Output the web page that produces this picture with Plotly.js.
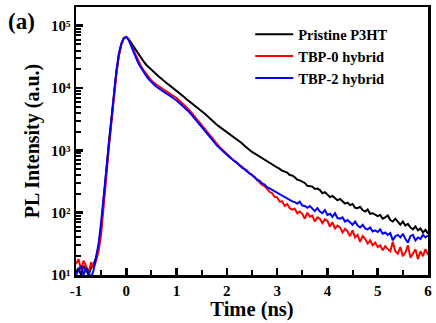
<!DOCTYPE html>
<html>
<head>
<meta charset="utf-8">
<script src="https://cdn.plot.ly/plotly-3.0.1.min.js"></script>
<style>html,body{margin:0;padding:0;background:#fff;}#chart{width:436px;height:323px;}</style>
</head>
<body>
<div id="chart"></div>
<script>
// Time axis (ns), step 0.05 from -1 to 6
const timeNs = [
-1.00,-0.95,-0.90,-0.85,-0.80,-0.75,-0.70,-0.65,-0.60,-0.55,-0.50,-0.45,-0.40,-0.35,-0.30,-0.25,-0.20,-0.15,-0.10,-0.05,
0.00,0.05,0.10,0.15,0.20,0.25,0.30,0.35,0.40,0.45,0.50,0.55,0.60,0.65,0.70,0.75,0.80,0.85,0.90,0.95,
1.00,1.05,1.10,1.15,1.20,1.25,1.30,1.35,1.40,1.45,1.50,1.55,1.60,1.65,1.70,1.75,1.80,1.85,1.90,1.95,
2.00,2.05,2.10,2.15,2.20,2.25,2.30,2.35,2.40,2.45,2.50,2.55,2.60,2.65,2.70,2.75,2.80,2.85,2.90,2.95,
3.00,3.05,3.10,3.15,3.20,3.25,3.30,3.35,3.40,3.45,3.50,3.55,3.60,3.65,3.70,3.75,3.80,3.85,3.90,3.95,
4.00,4.05,4.10,4.15,4.20,4.25,4.30,4.35,4.40,4.45,4.50,4.55,4.60,4.65,4.70,4.75,4.80,4.85,4.90,4.95,
5.00,5.05,5.10,5.15,5.20,5.25,5.30,5.35,5.40,5.45,5.50,5.55,5.60,5.65,5.70,5.75,5.80,5.85,5.90,5.95,
6.00];

const pristineP3HT = [
11,13,10,14,12,10,13,15,19,28,60,151,447,1259,3162,7586,16982,33113,50119,63096,
66069,60256,52481,44668,38019,33113,29512,26303,23442,21380,19498,17783,16218,15136,14125,12882,12023,11220,10471,9661,
8913,8318,7762,7161,6607,6166,5754,5309,4898,4571,4266,3936,3631,3311,3020,2786,2570,2399,2239,2113,
1995,1862,1758,1622,1514,1413,1303,1189,1096,1035,944,891,841,776,750,692,668,617,596,550,
531,505,470,455,440,402,395,370,338,330,318,300,270,266,262,240,244,230,205,214,
192,178,186,170,158,166,150,140,145,132,138,120,118,124,110,104,112,96,98,93,
88,92,80,84,90,76,72,80,70,64,72,62,66,58,54,60,52,56,48,53,
46];

const tbp0Hybrid = [
15,18,12,17,14,11,16,13,17,24,45,112,355,1047,2818,7079,15849,31623,48978,63096,
66069,58884,47863,38905,31623,26303,21878,19055,16596,14791,13183,12162,11220,10593,10000,9441,8913,8414,7943,7413,
6918,6383,5888,5433,5012,4467,3981,3548,3162,2818,2512,2239,1995,1778,1585,1413,1259,1148,1047,955,
871,804,750,676,638,575,550,501,479,427,407,372,335,312,280,268,236,216,205,180,
176,150,152,128,138,118,112,116,98,104,96,80,100,86,90,72,84,80,68,78,
74,60,70,56,62,58,48,55,50,42,52,40,44,34,42,38,32,36,30,33,
28,30,25,29,26,24,34,24,22,28,20,23,30,19,22,26,18,24,20,26,
21];

const tbp2Hybrid = [
10,12,14,10,13,11,9,12,20,32,71,178,525,1413,3548,8318,18197,34674,51286,63096,
66069,58884,45709,36308,29512,23988,20417,17783,15488,13804,12303,11350,10471,9772,9120,8610,8128,7674,7244,6761,
6310,5821,5370,4955,4571,4121,3715,3311,2985,2661,2399,2138,1905,1698,1514,1349,1202,1096,1000,923,
851,785,724,676,617,582,525,501,457,432,398,372,339,324,295,282,257,245,232,220,
208,196,186,178,168,160,152,148,140,150,130,128,120,128,114,106,118,104,98,110,
92,96,86,98,82,80,84,72,76,70,64,72,62,58,64,56,54,58,50,52,
49,54,46,48,44,47,36,42,44,40,46,38,33,42,44,36,40,38,44,40,
43];

const seriesNames = ['Pristine P3HT', 'TBP-0 hybrid', 'TBP-2 hybrid'];
const seriesColors = ['#000000', '#ff0000', '#0000ff'];
const seriesValues = [pristineP3HT, tbp0Hybrid, tbp2Hybrid];

const xTickVals = [-1, 0, 1, 2, 3, 4, 5, 6];
const xTickText = ['-1', '0', '1', '2', '3', '4', '5', '6'];
const yTickVals = [10, 100, 1000, 10000, 100000];
const yTickText = ['10\u00B9', '10\u00B2', '10\u00B3', '10\u2074', '10\u2075'];

// minor tick positions (axis decoration only)
const yMinorVals = [];
for (let d = 10; d <= 100000; d *= 10) for (let k = 2; k <= 9; k++) yMinorVals.push(k * d);
const xMinorVals = [-0.5, 0.5, 1.5, 2.5, 3.5, 4.5, 5.5];

const serif = 'Liberation Serif, Times New Roman, serif';

const traces = seriesValues.map((vals, i) => ({
  x: timeNs, y: vals, type: 'scatter', mode: 'lines', name: seriesNames[i],
  line: {color: seriesColors[i], width: 2}
}));
// empty carrier trace so the minor-tick overlay axes are drawn
traces.push({x: [], y: [], xaxis: 'x2', yaxis: 'y2', type: 'scatter', mode: 'lines', showlegend: false, hoverinfo: 'skip'});

const layout = {
  width: 436, height: 323,
  margin: {l: 76, r: 8, t: 7, b: 48},
  paper_bgcolor: '#fff', plot_bgcolor: '#fff',
  showlegend: true,
  legend: {x: 0.495, y: 0.958, xanchor: 'left', yanchor: 'top', bgcolor: 'rgba(0,0,0,0)',
           font: {family: serif, size: 14.5, color: '#000', weight: 'bold'}, itemwidth: 38, tracegroupgap: 0},
  xaxis: {
    range: [-1, 6], tickmode: 'array', tickvals: xTickVals, ticktext: xTickText,
    showgrid: false, zeroline: false,
    showline: true, linecolor: '#000', linewidth: 2.5, mirror: true,
    ticks: 'inside', ticklen: 7, tickwidth: 2.5, tickcolor: '#000',
    tickfont: {family: serif, size: 15, color: '#000', weight: 'bold'},
    title: {text: 'Time (ns)', font: {family: serif, size: 20.5, color: '#000', weight: 'bold'}, standoff: 4}
  },
  yaxis: {
    type: 'log', range: [1, 5.3], tickmode: 'array', tickvals: yTickVals, ticktext: yTickText,
    showgrid: false, zeroline: false,
    showline: true, linecolor: '#000', linewidth: 2.5, mirror: true,
    ticks: 'inside', ticklen: 7, tickwidth: 2.5, tickcolor: '#000',
    tickfont: {family: serif, size: 15, color: '#000', weight: 'bold'},
    title: {text: 'PL Intensity (a.u.)', font: {family: serif, size: 20, color: '#000', weight: 'bold'}, standoff: 6}
  },
  xaxis2: {
    overlaying: 'x', anchor: 'y2', range: [-1, 6], tickmode: 'array', tickvals: xMinorVals,
    showticklabels: false, showgrid: false, zeroline: false, showline: false,
    ticks: 'inside', ticklen: 5, tickwidth: 2, tickcolor: '#000'
  },
  yaxis2: {
    overlaying: 'y', anchor: 'x2', type: 'log', range: [1, 5.3], tickmode: 'array', tickvals: yMinorVals,
    showticklabels: false, showgrid: false, zeroline: false, showline: false,
    ticks: 'inside', ticklen: 5, tickwidth: 2, tickcolor: '#000'
  },
  annotations: [{
    text: '(a)', xref: 'paper', yref: 'paper', x: -0.2, y: 1.0, xanchor: 'left', yanchor: 'top',
    showarrow: false, font: {family: serif, size: 23, color: '#000', weight: 'bold'}
  }]
};

Plotly.newPlot('chart', traces, layout, {displayModeBar: false, staticPlot: true});
</script>
</body>
</html>
